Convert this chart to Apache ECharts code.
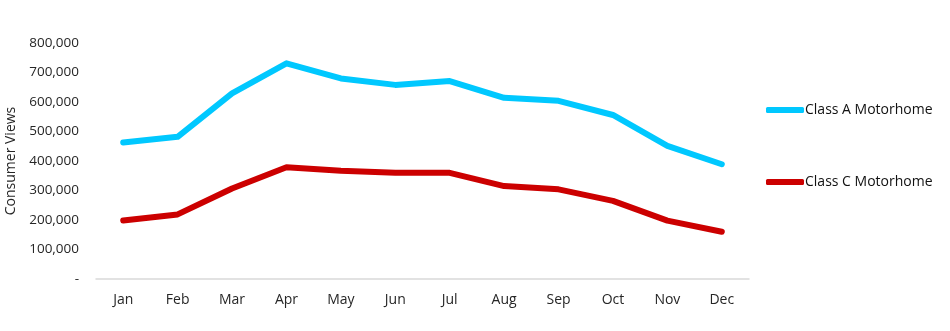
<!DOCTYPE html>
<html>
<head>
<meta charset="utf-8">
<script src="https://cdn.jsdelivr.net/npm/echarts@6/dist/echarts.min.js"></script>
<style>html,body{margin:0;padding:0;background:#fff}#c{width:950px;height:331px}</style>
</head>
<body>
<div id="c"></div>
<script>
var months = ['Jan','Feb','Mar','Apr','May','Jun','Jul','Aug','Sep','Oct','Nov','Dec'];
var classA = [463000, 482000, 629000, 731000, 680000, 658000, 671000, 614000, 604000, 556000, 451000, 389000];
var classC = [198000, 219000, 307000, 379000, 367000, 360000, 360000, 315000, 304000, 265000, 198000, 160000];
var seriesNames = ['Class A Motorhome', 'Class C Motorhome'];
var yTitle = 'Consumer Views';

var chart = echarts.init(document.getElementById('c'));
var font = 'Open Sans';
chart.setOption({
  animation: false,
  grid: {left: 96, right: 201, top: 43, bottom: 52, outerBoundsMode: 'none', containLabel: false},
  legend: {
    orient: 'vertical', left: 761, top: 98,
    itemWidth: 38, itemHeight: 6, itemGap: 58, icon: 'roundRect',
    textStyle: {fontFamily: font, fontSize: 14, color: '#111', padding: [0,0,0,-4]},
    data: seriesNames
  },
  xAxis: {
    type: 'category', data: months, boundaryGap: true,
    axisLine: {lineStyle: {color: '#d9d9d9', width: 1.5}},
    axisTick: {show: false},
    axisLabel: {fontFamily: font, fontSize: 14, color: '#262626', margin: 14}
  },
  yAxis: {
    type: 'value', min: 0, max: 800000, interval: 100000,
    name: yTitle, nameLocation: 'middle', nameRotate: 90, nameGap: 71,
    nameTextStyle: {fontFamily: font, fontSize: 14, color: '#262626'},
    splitLine: {show: false}, axisLine: {show: false}, axisTick: {show: false},
    axisLabel: {fontFamily: font, fontSize: 13.5, color: '#262626', margin: 17,
      formatter: function(v){ return v === 0 ? '-' : v.toLocaleString('en-US'); }}
  },
  series: [
    {name: seriesNames[0], type: 'line', data: classA, showSymbol: false, symbol: 'none',
     lineStyle: {width: 6, color: '#00C8FF', cap: 'round', join: 'round'}, itemStyle: {color: '#00C8FF'}},
    {name: seriesNames[1], type: 'line', data: classC, showSymbol: false, symbol: 'none',
     lineStyle: {width: 6, color: '#CC0000', cap: 'round', join: 'round'}, itemStyle: {color: '#CC0000'}}
  ]
});
</script>
</body>
</html>
